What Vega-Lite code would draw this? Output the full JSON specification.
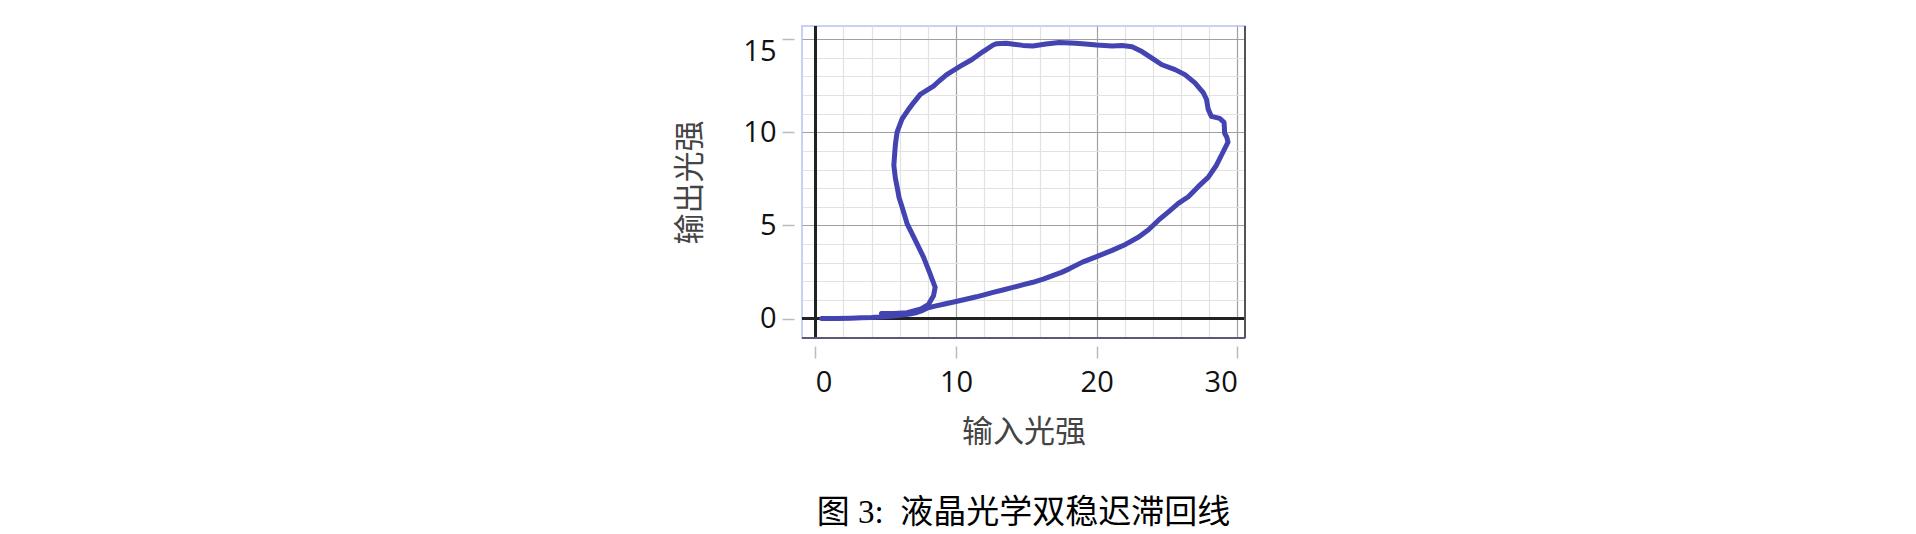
{
  "$schema": "https://vega.github.io/schema/vega-lite/v6.json",
  "autosize": {"type": "none"},
  "width": 443,
  "height": 312,
  "padding": {"left": 802, "top": 26, "right": 671, "bottom": 196},
  "background": "white",
  "title": {
    "text": "图 3:\u2002液晶光学双稳迟滞回线",
    "orient": "bottom",
    "anchor": "middle",
    "font": "Liberation Serif, Noto Sans CJK SC",
    "fontSize": 33,
    "fontWeight": "normal",
    "color": "#000",
    "offset": 50
  },
  "config": {
    "view": {"stroke": "#c8d0f4", "strokeWidth": 2},
    "axis": {
      "labelFont": "Open Sans",
      "labelFontSize": 29,
      "labelColor": "#111",
      "titleFont": "Noto Sans CJK SC",
      "titleFontSize": 31,
      "titleFontWeight": "normal",
      "titleColor": "#444",
      "domain": false,
      "grid": true,
      "labelOverlap": false,
      "tickCount": 40,
      "format": "d",
      "tickColor": "#bbbbbb",
      "tickWidth": 1.5,
      "tickSize": 12,
      "gridWidth": 1.2
    }
  },
  "data": {
    "values": [
      {"i": 1, "x": 0.45, "y": 0.0},
      {"i": 2, "x": 1.5, "y": 0.0},
      {"i": 3, "x": 2.5, "y": 0.02},
      {"i": 4, "x": 3.3, "y": 0.04},
      {"i": 5, "x": 4.0, "y": 0.06},
      {"i": 6, "x": 4.65, "y": 0.09},
      {"i": 7, "x": 5.4, "y": 0.13},
      {"i": 8, "x": 6.05, "y": 0.18},
      {"i": 9, "x": 6.7, "y": 0.25},
      {"i": 10, "x": 7.22, "y": 0.33},
      {"i": 11, "x": 7.6, "y": 0.43},
      {"i": 12, "x": 7.93, "y": 0.56},
      {"i": 13, "x": 8.5, "y": 0.67},
      {"i": 14, "x": 9.11, "y": 0.77},
      {"i": 15, "x": 10.0, "y": 0.92},
      {"i": 16, "x": 10.7, "y": 1.04},
      {"i": 17, "x": 11.46, "y": 1.17},
      {"i": 18, "x": 12.64, "y": 1.41},
      {"i": 19, "x": 13.4, "y": 1.55},
      {"i": 20, "x": 14.05, "y": 1.68},
      {"i": 21, "x": 14.8, "y": 1.82},
      {"i": 22, "x": 15.46, "y": 1.95},
      {"i": 23, "x": 16.2, "y": 2.12},
      {"i": 24, "x": 16.87, "y": 2.31},
      {"i": 25, "x": 17.5, "y": 2.48},
      {"i": 26, "x": 18.05, "y": 2.67},
      {"i": 27, "x": 18.99, "y": 3.03},
      {"i": 28, "x": 20.0, "y": 3.33},
      {"i": 29, "x": 21.1, "y": 3.66},
      {"i": 30, "x": 22.05, "y": 3.98},
      {"i": 31, "x": 22.99, "y": 4.38},
      {"i": 32, "x": 23.69, "y": 4.77},
      {"i": 33, "x": 24.4, "y": 5.28},
      {"i": 34, "x": 25.11, "y": 5.73},
      {"i": 35, "x": 25.81, "y": 6.18},
      {"i": 36, "x": 26.52, "y": 6.54},
      {"i": 37, "x": 27.22, "y": 7.08},
      {"i": 38, "x": 27.93, "y": 7.58},
      {"i": 39, "x": 28.52, "y": 8.23},
      {"i": 40, "x": 28.99, "y": 8.94},
      {"i": 41, "x": 29.34, "y": 9.47},
      {"i": 42, "x": 29.25, "y": 9.75},
      {"i": 43, "x": 29.1, "y": 9.95},
      {"i": 44, "x": 29.08, "y": 10.3},
      {"i": 45, "x": 29.06, "y": 10.53},
      {"i": 46, "x": 28.75, "y": 10.74},
      {"i": 47, "x": 28.16, "y": 10.85},
      {"i": 48, "x": 27.93, "y": 11.24},
      {"i": 49, "x": 27.81, "y": 11.77},
      {"i": 50, "x": 27.58, "y": 12.12},
      {"i": 51, "x": 26.99, "y": 12.65},
      {"i": 52, "x": 26.28, "y": 13.09},
      {"i": 53, "x": 25.58, "y": 13.36},
      {"i": 54, "x": 24.64, "y": 13.62},
      {"i": 55, "x": 23.93, "y": 13.98},
      {"i": 56, "x": 23.22, "y": 14.33},
      {"i": 57, "x": 22.52, "y": 14.59},
      {"i": 58, "x": 21.81, "y": 14.65},
      {"i": 59, "x": 21.1, "y": 14.63},
      {"i": 60, "x": 20.0, "y": 14.68},
      {"i": 61, "x": 19.2, "y": 14.73},
      {"i": 62, "x": 18.52, "y": 14.77},
      {"i": 63, "x": 17.34, "y": 14.81},
      {"i": 64, "x": 16.4, "y": 14.73},
      {"i": 65, "x": 15.46, "y": 14.63},
      {"i": 66, "x": 14.75, "y": 14.66},
      {"i": 67, "x": 14.1, "y": 14.72},
      {"i": 68, "x": 13.58, "y": 14.77},
      {"i": 69, "x": 12.9, "y": 14.75},
      {"i": 70, "x": 12.64, "y": 14.68},
      {"i": 71, "x": 11.93, "y": 14.33},
      {"i": 72, "x": 11.11, "y": 13.89},
      {"i": 73, "x": 10.28, "y": 13.53},
      {"i": 74, "x": 9.34, "y": 13.09},
      {"i": 75, "x": 8.8, "y": 12.75},
      {"i": 76, "x": 8.4, "y": 12.47},
      {"i": 77, "x": 7.46, "y": 12.03},
      {"i": 78, "x": 6.99, "y": 11.59},
      {"i": 79, "x": 6.64, "y": 11.24},
      {"i": 80, "x": 6.16, "y": 10.71},
      {"i": 81, "x": 5.81, "y": 10.0},
      {"i": 82, "x": 5.7, "y": 9.4},
      {"i": 83, "x": 5.65, "y": 8.94},
      {"i": 84, "x": 5.58, "y": 8.23},
      {"i": 85, "x": 5.69, "y": 7.53},
      {"i": 86, "x": 5.81, "y": 7.08},
      {"i": 87, "x": 5.95, "y": 6.5},
      {"i": 88, "x": 6.16, "y": 6.0},
      {"i": 89, "x": 6.52, "y": 5.1},
      {"i": 90, "x": 7.11, "y": 4.2},
      {"i": 91, "x": 7.69, "y": 3.3},
      {"i": 92, "x": 8.16, "y": 2.4},
      {"i": 93, "x": 8.52, "y": 1.68},
      {"i": 94, "x": 8.4, "y": 1.23},
      {"i": 95, "x": 8.05, "y": 0.77},
      {"i": 96, "x": 7.46, "y": 0.5},
      {"i": 97, "x": 6.52, "y": 0.32},
      {"i": 98, "x": 5.58, "y": 0.27},
      {"i": 99, "x": 4.7, "y": 0.27}
    ]
  },
  "layer": [
    {
      "mark": {"type": "rule", "color": "#222", "strokeWidth": 2},
      "encoding": {
        "x": {"datum": 0, "type": "quantitative"}
      }
    },
    {
      "mark": {"type": "rule", "color": "#222", "strokeWidth": 2},
      "encoding": {
        "y": {"datum": 0, "type": "quantitative"}
      }
    },
    {
      "mark": {"type": "rule", "color": "#555", "strokeWidth": 2},
      "encoding": {
        "x": {"datum": 30.55, "type": "quantitative"}
      }
    },
    {
      "mark": {"type": "rule", "color": "#5a5a78", "strokeWidth": 2},
      "encoding": {
        "y": {"datum": -1.04, "type": "quantitative"}
      }
    },
    {
      "mark": {"type": "line", "color": "#4343b2", "strokeWidth": 5, "strokeJoin": "round", "strokeCap": "round"},
      "encoding": {
        "x": {
          "field": "x",
          "type": "quantitative",
          "scale": {"domain": [-0.95, 30.55], "nice": false, "zero": false},
          "axis": {
            "title": "输入光强",
            "grid": true,
            "labelOverlap": false,
            "tickCount": 40,
            "format": "d",
            "values": [0, 2, 4, 6, 8, 10, 12, 14, 16, 18, 20, 22, 24, 26, 28, 30],
            "labelExpr": "datum.value % 10 === 0 ? datum.label : ''",
            "tickOpacity": {"condition": {"test": "datum.value % 10 === 0", "value": 1}, "value": 0},
            "gridColor": {"condition": {"test": "datum.value % 10 === 0", "value": "#a0a0a0"}, "value": "#e2e2e2"},
            "offset": 8,
            "labelPadding": 10,
            "labelFlush": 15,
            "titlePadding": 20
          }
        },
        "y": {
          "field": "y",
          "type": "quantitative",
          "scale": {"domain": [-1.04, 15.7], "nice": false, "zero": false},
          "axis": {
            "title": "输出光强",
            "grid": true,
            "labelOverlap": false,
            "tickCount": 40,
            "format": "d",
            "values": [-1, 0, 1, 2, 3, 4, 5, 6, 7, 8, 9, 10, 11, 12, 13, 14, 15],
            "labelExpr": "datum.value % 5 === 0 ? datum.label : ''",
            "tickOpacity": {"condition": {"test": "datum.value % 5 === 0", "value": 1}, "value": 0},
            "gridColor": {"condition": {"test": "datum.value % 5 === 0", "value": "#a0a0a0"}, "value": "#e2e2e2"},
            "offset": 8,
            "labelPadding": 6,
            "labelFlush": 15,
            "labelFlushOffset": 2,
            "titlePadding": 36
          }
        },
        "order": {"field": "i", "type": "quantitative"}
      }
    }
  ]
}
